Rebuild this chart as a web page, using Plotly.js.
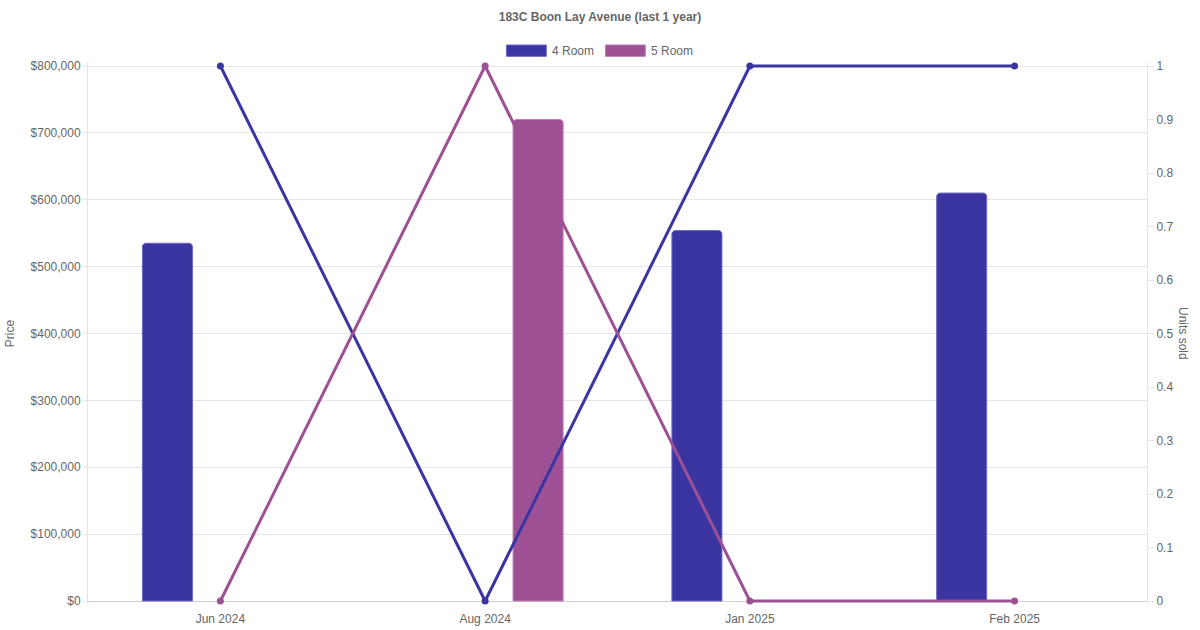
<!DOCTYPE html>
<html>
<head>
<meta charset="utf-8">
<script src="https://cdn.plot.ly/plotly-3.0.1.min.js"></script>
<style>
  html, body { margin: 0; padding: 0; background: #fff; }
  #chart { width: 1200px; height: 630px; }
</style>
</head>
<body>
<div id="chart"></div>
<script>
// data
const months = ['Jun 2024', 'Aug 2024', 'Jan 2025', 'Feb 2025'];
const price4Room = [535000, null, 554000, 610000];
const price5Room = [null, 720000, null, null];
const units4Room = [1, 0, 1, 1];
const units5Room = [0, 1, 0, 0];

const seriesNames = ['4 Room', '5 Room'];
const colors = ['#3a35a0', '#9e5094'];
const borders = ['#6d69c4', '#c07cb6'];

const font = 'Liberation Sans, Arial, sans-serif';
const grey = '#666';

// bars sit left / right of the month centre
const barWidth = 0.189;
const barOffsets = [-0.2 - barWidth / 2, 0.2 - barWidth / 2];

// plot area is padded by a few px so the lines at 0 and 1 aren't clipped
const pad = 3, innerH = 535;
const padFrac = pad / innerH;

const priceSeries = [price4Room, price5Room];
const unitSeries = [units4Room, units5Room];

const traces = [];
priceSeries.forEach((vals, i) => {
    traces.push({
        type: 'bar',
        name: seriesNames[i],
        x: months,
        y: vals,
        width: barWidth,
        offset: barOffsets[i],
        marker: {
            color: colors[i],
            line: { color: borders[i], width: 1 },
            cornerradius: 4
        },
        yaxis: 'y',
        showlegend: false,
        hovertemplate: '%{x}<br>' + seriesNames[i] + ': $%{y:,}<extra></extra>'
    });
});
unitSeries.forEach((vals, i) => {
    traces.push({
        type: 'scatter',
        mode: 'lines+markers',
        name: seriesNames[i] + ' units',
        x: months,
        y: vals,
        yaxis: 'y2',
        line: { color: colors[i], width: 3 },
        marker: { color: colors[i], size: 7 },
        cliponaxis: false,
        showlegend: false
    });
});

// legend boxes drawn by hand (chart.js style wide swatches), paper coords
const legendX = [0.4328, 0.5263];
const legendShapes = seriesNames.map((n, i) => ({
    type: 'rect',
    xref: 'paper', yref: 'paper',
    x0: legendX[i] - 0.0377, x1: legendX[i],
    y0: 1.0123, y1: 1.0333,
    fillcolor: colors[i],
    line: { color: borders[i], width: 1 }
}));
const legendLabels = seriesNames.map((n, i) => ({
    xref: 'paper', yref: 'paper',
    x: legendX[i] + 0.0035, y: 1.0228,
    xanchor: 'left', yanchor: 'middle',
    text: n,
    showarrow: false,
    font: { family: font, size: 12, color: grey }
}));

const layout = {
    width: 1200,
    height: 630,
    paper_bgcolor: '#fff',
    plot_bgcolor: '#fff',
    font: { family: font, size: 12, color: grey },
    margin: { l: 88, r: 53, t: 66 - pad, b: 29 - pad, autoexpand: false },
    title: {
        text: '<b>183C Boon Lay Avenue (last 1 year)</b>',
        font: { family: font, size: 12, color: grey },
        x: 0.5, xanchor: 'center',
        y: 0.973, yanchor: 'middle'
    },
    bargap: 0,
    xaxis: {
        type: 'category',
        range: [-0.5, 3.5],
        showgrid: false,
        showline: false,
        ticks: '',
        ticklabelstandoff: 6,
        tickfont: { family: font, size: 12, color: grey },
        fixedrange: true
    },
    yaxis: {
        range: [-800000 * padFrac, 800000 * (1 + padFrac)],
        tick0: 0,
        dtick: 100000,
        tickprefix: '$',
        tickformat: ',d',
        showgrid: true,
        gridcolor: '#e5e5e5',
        zeroline: true,
        zerolinecolor: '#cfcfcf',
        zerolinewidth: 1,
        showline: true,
        linecolor: '#e5e5e5',
        ticks: 'outside',
        ticklen: 4,
        tickcolor: '#e5e5e5',
        tickfont: { family: font, size: 12, color: grey },
        title: { text: 'Price', font: { family: font, size: 12, color: grey }, standoff: 13 },
        fixedrange: true
    },
    yaxis2: {
        overlaying: 'y',
        side: 'right',
        range: [-padFrac, 1 + padFrac],
        tick0: 0,
        dtick: 0.1,
        showgrid: false,
        zeroline: false,
        showline: true,
        linecolor: '#e5e5e5',
        ticks: 'outside',
        ticklen: 6,
        tickcolor: '#e5e5e5',
        tickfont: { family: font, size: 12, color: grey },
        fixedrange: true
    },
    shapes: legendShapes,
    annotations: legendLabels.concat([{
        xref: 'paper', yref: 'paper',
        x: 1.0345, y: 0.5,
        xanchor: 'center', yanchor: 'middle',
        text: 'Units sold',
        textangle: 90,
        showarrow: false,
        font: { family: font, size: 12, color: grey }
    }]),
    showlegend: false
};

Plotly.newPlot('chart', traces, layout, { displayModeBar: false, staticPlot: true });
</script>
</body>
</html>
